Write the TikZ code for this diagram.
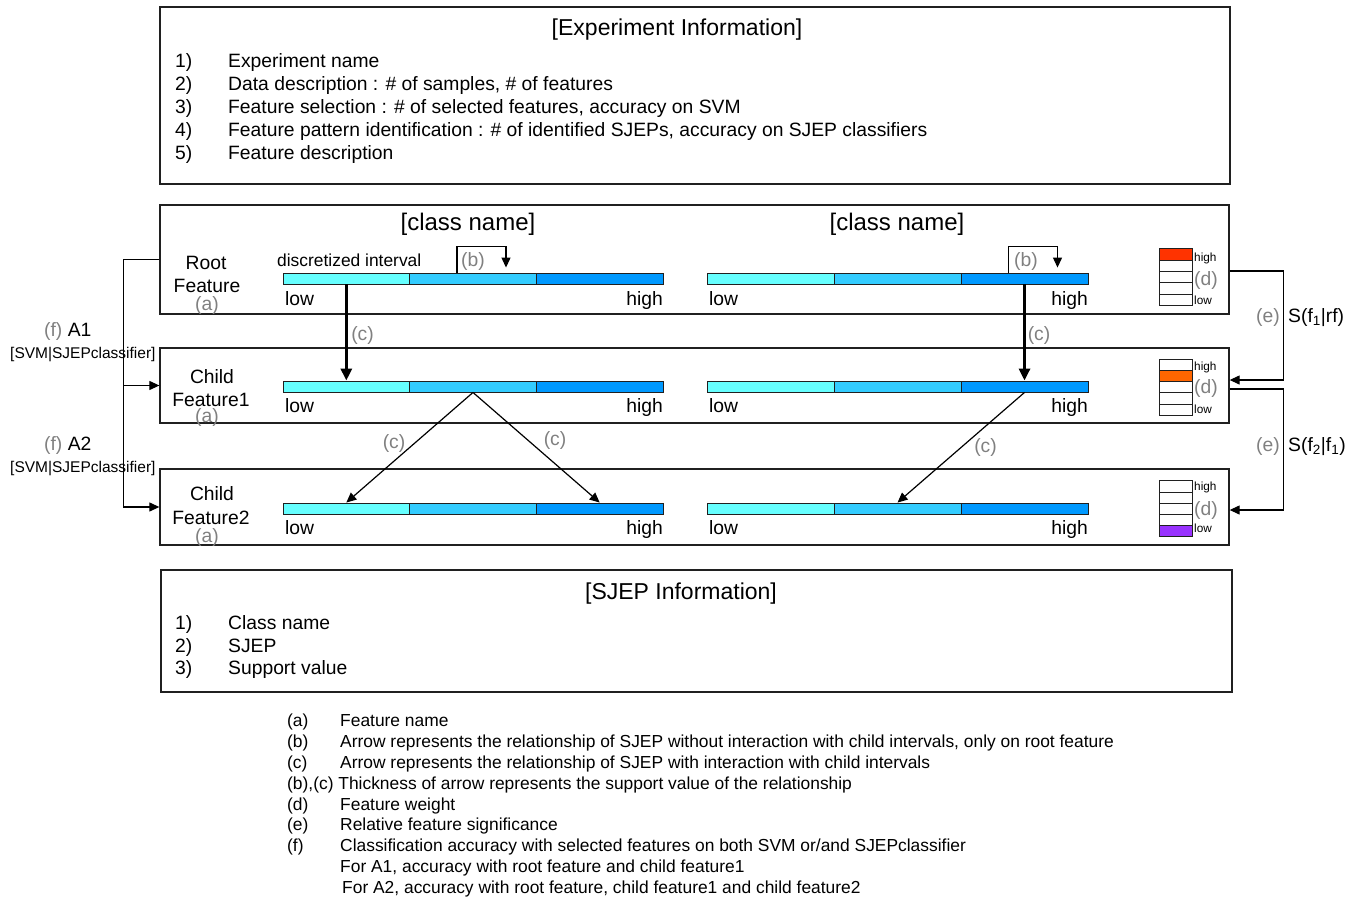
\documentclass[tikz,border=0pt]{standalone}
\usepackage{fontspec}
\setmainfont{Liberation Sans}
\usetikzlibrary{arrows.meta,calc}
\definecolor{cA}{HTML}{66FFFF}
\definecolor{cB}{HTML}{33CCFF}
\definecolor{cC}{HTML}{0099FF}
\definecolor{wRed}{HTML}{FF3300}
\definecolor{wOrg}{HTML}{FF6600}
\definecolor{wPur}{HTML}{9933FF}
\definecolor{lblgray}{HTML}{808080}
\definecolor{edgec}{HTML}{202020}
\newcommand\fntT{\fontsize{23}{27}\selectfont}
\newcommand\fntC{\fontsize{24}{28}\selectfont}
\newcommand\fntM{\fontsize{19.3}{23}\selectfont}
\newcommand\fntL{\fontsize{17.4}{21}\selectfont}
\newcommand\fntS{\fontsize{15.5}{18}\selectfont}
\newcommand\fntX{\fontsize{11.8}{14}\selectfont}
\begin{document}
\begin{tikzpicture}[x=1pt,y=-1pt,
  box/.style={draw=edgec, line width=1.3pt, inner sep=0},
  seg/.style={draw=edgec, line width=0.9pt, inner sep=0, minimum height=11pt},
  segl/.style={seg, minimum width=126.67pt},
  segr/.style={seg, minimum width=127pt},
  wcell/.style={draw=edgec, line width=1pt, fill=white, inner sep=0, minimum width=33pt, minimum height=11.3pt},
  txt/.style={inner sep=0, text height=0.96em, text depth=0em},
  tw/.style={txt, anchor=west},
  te/.style={txt, anchor=east},
  gl/.style={text=lblgray},
  arr/.style={-{Triangle[length=10pt,width=9pt]}, line width=1.2pt},
  tarr/.style={-{Triangle[length=12pt,width=11pt]}, line width=3.5pt},
  conn/.style={line width=1.2pt}
]
\useasboundingbox (0,0) rectangle (1359,901);

% ---------- Experiment information ----------
\node[box, minimum width=1070pt, minimum height=177pt] (exp) at (695,95.5) {};
\node[txt, font=\fntT] (expT) at (677,31) {[Experiment Information]};
\node[tw, font=\fntM] (ex1n) at (175,63) {1)};
\node[tw, font=\fntM] (ex1) at (228,63) {Experiment name};
\node[tw, font=\fntM] (ex2n) at (175,86) {2)};
\node[tw, font=\fntM] (ex2) at (228,86) {Data description : \# of samples, \# of features};
\node[tw, font=\fntM] (ex3n) at (175,109) {3)};
\node[tw, font=\fntM] (ex3) at (228,109) {Feature selection : \# of selected features, accuracy on SVM};
\node[tw, font=\fntM] (ex4n) at (175,132) {4)};
\node[tw, font=\fntM] (ex4) at (228,132) {Feature pattern identification : \# of identified SJEPs, accuracy on SJEP classifiers};
\node[tw, font=\fntM] (ex5n) at (175,155) {5)};
\node[tw, font=\fntM] (ex5) at (228,155) {Feature description};

% ---------- feature boxes ----------
\node[box, minimum width=1069pt, minimum height=109pt] (root) at (694.5,259.5) {};
\node[box, minimum width=1069pt, minimum height=75pt] (c1) at (694.5,385.5) {};
\node[box, minimum width=1069pt, minimum height=76pt] (c2) at (694.5,507) {};

\node[txt, font=\fntC] (cnL) at (468,226) {[class name]};
\node[txt, font=\fntC] (cnR) at (897,226) {[class name]};

% feature names
\node[txt, font=\fntM] (rfa) at (206,265) {Root};
\node[txt, font=\fntM] (rfb) at (207,288) {Feature};
\node[txt, font=\fntM, gl] (rfc) at (207,306) {(a)};
\node[txt, font=\fntM] (c1a) at (212,379) {Child};
\node[txt, font=\fntM] (c1b) at (211,402) {Feature1};
\node[txt, font=\fntM, gl] (c1c) at (207,418) {(a)};
\node[txt, font=\fntM] (c2a) at (212,496) {Child};
\node[txt, font=\fntM] (c2b) at (211,520) {Feature2};
\node[txt, font=\fntM, gl] (c2c) at (207,538) {(a)};

\node[tw, font=\fntL] (disc) at (277,262) {discretized interval};

% ---------- bars ----------
% root
\node[segl, fill=cA] (rL1) at (346.33,278.5) {};
\node[segl, fill=cB] (rL2) at (473,278.5) {};
\node[segl, fill=cC] (rL3) at (599.67,278.5) {};
\node[segr, fill=cA] (rR1) at (770.5,278.5) {};
\node[segr, fill=cB] (rR2) at (897.5,278.5) {};
\node[segr, fill=cC] (rR3) at (1024.5,278.5) {};
% child1
\node[segl, fill=cA] (aL1) at (346.33,386.5) {};
\node[segl, fill=cB] (aL2) at (473,386.5) {};
\node[segl, fill=cC] (aL3) at (599.67,386.5) {};
\node[segr, fill=cA] (aR1) at (770.5,386.5) {};
\node[segr, fill=cB] (aR2) at (897.5,386.5) {};
\node[segr, fill=cC] (aR3) at (1024.5,386.5) {};
% child2
\node[segl, fill=cA] (bL1) at (346.33,508.5) {};
\node[segl, fill=cB] (bL2) at (473,508.5) {};
\node[segl, fill=cC] (bL3) at (599.67,508.5) {};
\node[segr, fill=cA] (bR1) at (770.5,508.5) {};
\node[segr, fill=cB] (bR2) at (897.5,508.5) {};
\node[segr, fill=cC] (bR3) at (1024.5,508.5) {};

% low / high
\node[tw, font=\fntM] (rlowL) at (285,301) {low};
\node[te, font=\fntM] (rhighL) at (663,301) {high};
\node[tw, font=\fntM] (rlowR) at (709,301) {low};
\node[te, font=\fntM] (rhighR) at (1088,301) {high};
\node[tw, font=\fntM] (alowL) at (285,408) {low};
\node[te, font=\fntM] (ahighL) at (663,408) {high};
\node[tw, font=\fntM] (alowR) at (709,408) {low};
\node[te, font=\fntM] (ahighR) at (1088,408) {high};
\node[tw, font=\fntM] (blowL) at (285,530) {low};
\node[te, font=\fntM] (bhighL) at (663,530) {high};
\node[tw, font=\fntM] (blowR) at (709,530) {low};
\node[te, font=\fntM] (bhighR) at (1088,530) {high};

% ---------- (b) arrows ----------
\draw[arr, shorten >=5pt] ([xshift=-16pt]rL2.north) -- ++(0,-26) -| ([xshift=33pt]rL2.north);
\draw[arr, shorten >=5pt] ([xshift=-16pt]rR3.north) -- ++(0,-26) -| ([xshift=33pt]rR3.north);
\node[txt, font=\fntM, gl] (bL) at (473,262) {(b)};
\node[txt, font=\fntM, gl] (bR) at (1026,262) {(b)};

% ---------- (c) arrows ----------
\draw[tarr] (rL1.south) -- (aL1.north);
\draw[tarr] (rR3.south) -- (aR3.north);
\draw[arr] (aL2.south) -- (bL1.north);
\draw[arr] (aL2.south) -- (bL3.north);
\draw[arr] (aR3.south) -- (bR2.north);
\node[txt, font=\fntM, gl] (cl1) at (362.5,336) {(c)};
\node[txt, font=\fntM, gl] (cr1) at (1039,336) {(c)};
\node[txt, font=\fntM, gl] (cl2) at (394,444) {(c)};
\node[txt, font=\fntM, gl] (cl3) at (555,441) {(c)};
\node[txt, font=\fntM, gl] (cr2) at (985.5,448) {(c)};

% ---------- feature weights ----------
\foreach \i in {1,...,5} {
  \node[wcell] (rw\i) at (1175.5,{249+11.3*(\i-0.5)}) {};
  \node[wcell] (aw\i) at (1175.5,{359+11.3*(\i-0.5)}) {};
  \node[wcell] (bw\i) at (1175.5,{481+11.1*(\i-0.5)}) {};
}
\node[wcell, fill=wRed] (rwf) at (rw1) {};
\node[wcell, fill=wOrg] (awf) at (aw2) {};
\node[wcell, fill=wPur, minimum height=11.1pt] (bwf) at (bw5) {};
\node[tw, font=\fntX] (rwh) at (1194,257) {high};
\node[tw, font=\fntM, gl] (rwd) at (1194,281) {(d)};
\node[tw, font=\fntX] (rwl) at (1194,300) {low};
\node[tw, font=\fntX] (awh) at (1194,366) {high};
\node[tw, font=\fntM, gl] (awd) at (1194,389) {(d)};
\node[tw, font=\fntX] (awl) at (1194,409) {low};
\node[tw, font=\fntX] (bwh) at (1194,486) {high};
\node[tw, font=\fntM, gl] (bwd) at (1194,511) {(d)};
\node[tw, font=\fntX] (bwl) at (1194,528) {low};

% ---------- (f) left connectors ----------
\coordinate (fl) at ($(root.west)+(-36,0)$);
\draw[conn] (root.west) -- (fl);
\draw[arr] (fl) |- (c1.west);
\draw[arr] (fl) |- (c2.west);
\node[tw, font=\fntM] (fA1) at (44,332) {\textcolor{lblgray}{(f)} A1};
\node[tw, font=\fntS] (fA1s) at (10,354) {[SVM|SJEPclassifier]};
\node[tw, font=\fntM] (fA2) at (44,446) {\textcolor{lblgray}{(f)} A2};
\node[tw, font=\fntS] (fA2s) at (10,468) {[SVM|SJEPclassifier]};

% ---------- (e) right connectors ----------
\coordinate (e1s) at ($(root.east)+(0,11.5)$);
\coordinate (e1t) at ($(c1.east)+(0,-5.5)$);
\coordinate (e2s) at ($(c1.east)+(0,3.5)$);
\coordinate (e2t) at ($(c2.east)+(0,3)$);
\draw[arr] (e1s) -- ++(54,0) |- (e1t);
\draw[arr] (e2s) -- ++(54,0) |- (e2t);
\node[te, font=\fntM, gl] (e1l) at (1280,318) {(e)};
\node[tw, font=\fntM] (e1r) at (1288,318) {S(f\textsubscript{1}|rf)};
\node[te, font=\fntM, gl] (e2l) at (1280,447) {(e)};
\node[tw, font=\fntM] (e2r) at (1288,447) {S(f\textsubscript{2}|f\textsubscript{1})};

% ---------- SJEP information ----------
\node[box, minimum width=1071pt, minimum height=122pt] (sjep) at (696.5,631) {};
\node[txt, font=\fntT] (sjT) at (681,595) {[SJEP Information]};
\node[tw, font=\fntM] (sj1n) at (175,625) {1)};
\node[tw, font=\fntM] (sj1) at (228,625) {Class name};
\node[tw, font=\fntM] (sj2n) at (175,648) {2)};
\node[tw, font=\fntM] (sj2) at (228,648) {SJEP};
\node[tw, font=\fntM] (sj3n) at (175,670) {3)};
\node[tw, font=\fntM] (sj3) at (228,670) {Support value};

% ---------- legend ----------
\node[tw, font=\fntL] (lga) at (287,722) {(a)};
\node[tw, font=\fntL] (lgat) at (340,722) {Feature name};
\node[tw, font=\fntL] (lgb) at (287,742.8) {(b)};
\node[tw, font=\fntL] (lgbt) at (340,742.8) {Arrow represents the relationship of SJEP without interaction with child intervals, only on root feature};
\node[tw, font=\fntL] (lgc) at (287,763.6) {(c)};
\node[tw, font=\fntL] (lgct) at (340,763.6) {Arrow represents the relationship of SJEP with interaction with child intervals};
\node[tw, font=\fntL] (lgbc) at (287,784.4) {(b),(c) Thickness of arrow represents the support value of the relationship};
\node[tw, font=\fntL] (lgd) at (287,805.2) {(d)};
\node[tw, font=\fntL] (lgdt) at (340,805.2) {Feature weight};
\node[tw, font=\fntL] (lge) at (287,826) {(e)};
\node[tw, font=\fntL] (lget) at (340,826) {Relative feature significance};
\node[tw, font=\fntL] (lgf) at (287,846.8) {(f)};
\node[tw, font=\fntL] (lgft) at (340,846.8) {Classification accuracy with selected features on both SVM or/and SJEPclassifier};
\node[tw, font=\fntL] (lgf1) at (340,867.6) {For A1, accuracy with root feature and child feature1};
\node[tw, font=\fntL] (lgf2) at (342,888.4) {For A2, accuracy with root feature, child feature1 and child feature2};
\end{tikzpicture}
\end{document}
